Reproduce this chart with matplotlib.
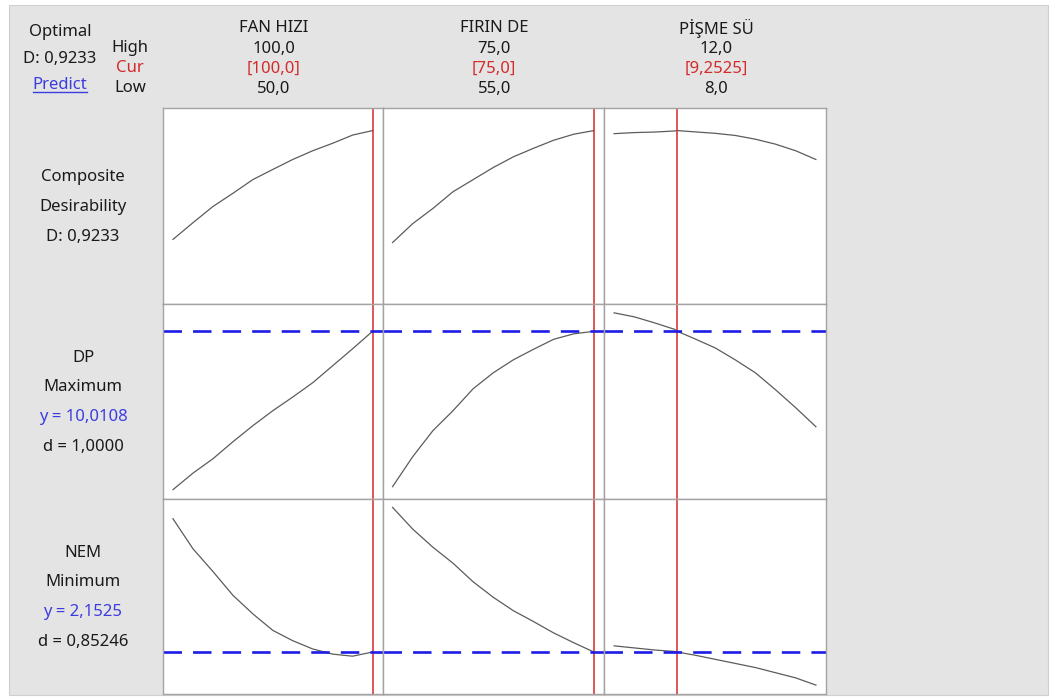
import matplotlib

matplotlib.use("Agg")
import matplotlib.pyplot as plt
from matplotlib.lines import Line2D
from matplotlib.patches import Rectangle

W, H = 1052, 697
FONT = ["Noto Sans", "DejaVu Sans"]

# factor settings (Low / Cur / High)
FACTORS = ["FAN HIZI", "FIRIN DE", "PİŞME SÜ"]
LOW = [50.0, 55.0, 8.0]
HIGH = [100.0, 75.0, 12.0]
CUR = [100.0, 75.0, 9.2525]
HIGH_LABELS = ["100,0", "75,0", "12,0"]
CUR_LABELS = ["[100,0]", "[75,0]", "[9,2525]"]
LOW_LABELS = ["50,0", "55,0", "8,0"]

FAN_X = [50, 55, 60, 65, 70, 75, 80, 85, 90, 95, 100]
FIRIN_X = [55, 57, 59, 61, 63, 65, 67, 69, 71, 73, 75]
PISME_X = [8.0, 8.4, 8.8, 9.2, 9.2525, 9.6, 10.0, 10.4, 10.8, 11.2, 11.6, 12.0]

# composite desirability
D_FAN = [0.3125, 0.406, 0.497, 0.571, 0.648, 0.705, 0.761, 0.810, 0.852, 0.898, 0.9233]
D_FIRIN = [0.295, 0.401, 0.486, 0.580, 0.648, 0.716, 0.776, 0.824, 0.869, 0.903, 0.9233]
D_PISME = [0.906, 0.912, 0.915, 0.921, 0.9233, 0.916, 0.908, 0.896, 0.875, 0.847, 0.810, 0.761]

# DP (maximize)
DP_FAN = [6.048, 6.461, 6.820, 7.245, 7.648, 8.023, 8.365, 8.723, 9.148, 9.573, 10.0108]
DP_FIRIN = [6.123, 6.873, 7.523, 8.023, 8.573, 8.973, 9.298, 9.561, 9.811, 9.948, 10.0108]
DP_PISME = [10.473, 10.373, 10.223, 10.060, 10.0108, 9.823, 9.598, 9.298, 8.973, 8.548, 8.098, 7.623]

# NEM (minimize)
NEM_FAN = [3.4425, 3.1525, 2.9325, 2.7025, 2.5225, 2.3625, 2.2625, 2.1825, 2.1325, 2.1125, 2.1525]
NEM_FIRIN = [3.5525, 3.3425, 3.1675, 3.0125, 2.8325, 2.6825, 2.5525, 2.4475, 2.3375, 2.2425, 2.1525]
NEM_PISME = [2.2125, 2.1925, 2.1725, 2.158, 2.1525, 2.1225, 2.0825, 2.0425, 2.0025, 1.9525, 1.9025, 1.8325]

X_DATA = [FAN_X, FIRIN_X, PISME_X]
ROW_DATA = [
    [D_FAN, D_FIRIN, D_PISME],
    [DP_FAN, DP_FIRIN, DP_PISME],
    [NEM_FAN, NEM_FIRIN, NEM_PISME],
]
ROW_TARGET = [None, 10.0108, 2.1525]
ROW_LABELS = [
    [("Composite", "k"), ("Desirability", "k"), ("D: 0,9233", "k")],
    [("DP", "k"), ("Maximum", "k"), ("y = 10,0108", "blue"), ("d = 1,0000", "k")],
    [("NEM", "k"), ("Minimum", "k"), ("y = 2,1525", "blue"), ("d = 0,85246", "k")],
]

GRAY_BG = "#e4e4e4"
SPINE = "#a3a3a3"
CURVE = "#5c5c5c"
RED = "#d42a2a"
BLUE = "#1c1ce6"
TEXT_BLUE = "#3c3ce0"
TEXT = "#1a1a1a"

COL_EDGES = [163, 382.5, 604, 826]
ROW_EDGES = [108, 304, 498.5, 694]


def put(fig, x, y, s, color=TEXT, size=12):
    return fig.text(x / W, 1 - y / H, s, ha="center", va="center",
                    color=color, fontsize=size, family=FONT)


def main() -> None:
    fig = plt.figure(figsize=(W / 100, H / 100), dpi=100, facecolor="white")
    fig.add_artist(Rectangle((9 / W, 1 - 695 / H), 1039 / W, 690 / H,
                             transform=fig.transFigure, facecolor=GRAY_BG,
                             edgecolor="#cfcfcf", linewidth=0.8, zorder=-5))

    for r in range(3):
        vals = [v for series in ROW_DATA[r] for v in series]
        if r == 0:
            lo, hi = 0.0, 1.0
        else:
            lo, hi = min(vals), max(vals)
        pad = (hi - lo) * 0.05
        for c in range(3):
            x0, x1 = COL_EDGES[c], COL_EDGES[c + 1]
            y0, y1 = ROW_EDGES[r], ROW_EDGES[r + 1]
            ax = fig.add_axes([x0 / W, 1 - y1 / H, (x1 - x0) / W, (y1 - y0) / H])
            ax.set_facecolor("white")
            xr = HIGH[c] - LOW[c]
            ax.set_xlim(LOW[c] - 0.05 * xr, HIGH[c] + 0.05 * xr)
            ax.set_ylim(lo - pad, hi + pad)
            ax.set_xticks([])
            ax.set_yticks([])
            for sp in ax.spines.values():
                sp.set_color(SPINE)
                sp.set_linewidth(1.0)
            ax.plot(X_DATA[c], ROW_DATA[r][c], color=CURVE, linewidth=0.9)
            ax.axvline(CUR[c], color=RED, linewidth=1.1)
            if ROW_TARGET[r] is not None:
                ax.axhline(ROW_TARGET[r], color=BLUE, linewidth=1.9,
                           linestyle=(0, (7.0, 4.2)))

    # header block
    put(fig, 60, 32, "Optimal")
    put(fig, 60, 59, "D: 0,9233")
    pred = put(fig, 60, 85, "Predict", color=TEXT_BLUE)
    put(fig, 130, 48, "High")
    put(fig, 130, 68, "Cur", color=RED)
    put(fig, 130, 88, "Low")
    for c in range(3):
        cx = (COL_EDGES[c] + COL_EDGES[c + 1]) / 2 + 1
        put(fig, cx, 28, FACTORS[c])
        put(fig, cx, 49, HIGH_LABELS[c])
        put(fig, cx, 69, CUR_LABELS[c], color=RED)
        put(fig, cx, 89, LOW_LABELS[c])

    # row labels
    for r in range(3):
        lines = ROW_LABELS[r]
        yc = (ROW_EDGES[r] + ROW_EDGES[r + 1]) / 2 + 1
        start = yc - (len(lines) - 1) * 29.7 / 2
        for i, (s, col) in enumerate(lines):
            put(fig, 83, start + i * 29.7, s, color=TEXT_BLUE if col == "blue" else TEXT)

    # underline for the Predict link
    renderer = fig.canvas.get_renderer()
    bb = pred.get_window_extent(renderer)
    fig.add_artist(Line2D([bb.x0 / W, bb.x1 / W], [(bb.y0 + 1) / H] * 2,
                          transform=fig.transFigure, color=TEXT_BLUE, linewidth=1.0))

    fig.savefig("out.png", dpi=100)
    plt.close(fig)


if __name__ == "__main__":
    main()
